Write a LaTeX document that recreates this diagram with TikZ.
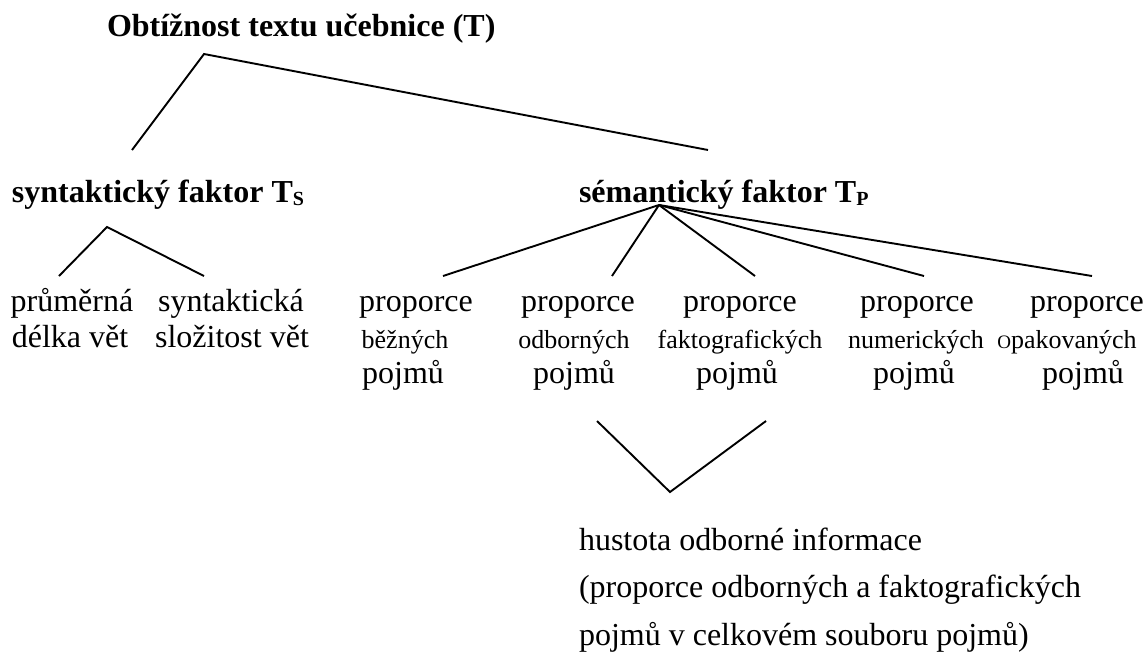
\documentclass[tikz,border=0pt]{standalone}
\usepackage{fontspec}
\setmainfont{Liberation Serif}
\begin{document}
\begin{tikzpicture}[x=1pt,y=-1pt,
  lbl/.style={inner sep=0pt, outer sep=0pt},
  big/.style={lbl, font=\fontsize{32}{38}\selectfont},
  bigb/.style={lbl, font=\fontsize{32}{38}\selectfont\bfseries},
  small/.style={lbl, font=\fontsize{26}{31}\selectfont},
  link/.style={line width=1.9pt, line join=miter}]
\useasboundingbox[fill=white] (0,0) rectangle (1147,667);
% headers
\node[bigb, anchor=base west] (T) at (107,36) {Obtížnost textu učebnice (T)};
\node[bigb, anchor=base west] (TS) at (12,202) {syntaktický faktor T\raisebox{-3pt}{\fontsize{20}{20}\selectfont S}};
\node[bigb, anchor=base west] (TP) at (579,202) {sémantický faktor T\raisebox{-3pt}{\fontsize{20}{20}\selectfont P}};
% syntactic leaves
\node[big, anchor=base] (s1a) at (72,311) {průměrná};
\node[big, anchor=base] (s1b) at (70,347) {délka vět};
\node[big, anchor=base] (s2a) at (231,311) {syntaktická};
\node[big, anchor=base] (s2b) at (232,347) {složitost vět};
% semantic leaves
\node[big, anchor=base] (p1a) at (416,311) {proporce};
\node[small, anchor=base] (p1b) at (405,348) {běžných};
\node[big, anchor=base] (p1c) at (403,383) {pojmů};
\node[big, anchor=base] (p2a) at (578,311) {proporce};
\node[small, anchor=base] (p2b) at (574,348) {odborných};
\node[big, anchor=base] (p2c) at (574,383) {pojmů};
\node[big, anchor=base] (p3a) at (740,311) {proporce};
\node[small, anchor=base] (p3b) at (740,348) {faktografických};
\node[big, anchor=base] (p3c) at (737,383) {pojmů};
\node[big, anchor=base] (p4a) at (917,311) {proporce};
\node[small, anchor=base] (p4b) at (916,348) {numerických};
\node[big, anchor=base] (p4c) at (914,383) {pojmů};
\node[big, anchor=base] (p5a) at (1087,311) {proporce};
\node[small, anchor=base] (p5b) at (1067,348) {{\fontsize{19}{19}\selectfont O}pakovaných};
\node[big, anchor=base] (p5c) at (1083,383) {pojmů};
% density
\node[big, anchor=base west] (h1) at (579,550) {hustota odborné informace};
\node[big, anchor=base west] (h2) at (579,597) {(proporce odborných a faktografických};
\node[big, anchor=base west] (h3) at (579,645) {pojmů v celkovém souboru pojmů)};
% connector points
\coordinate (aT) at (204,54);
\coordinate (eTS) at (132,150);
\coordinate (eTP) at (708,150);
\coordinate (aS) at (107,227);
\coordinate (eS1) at (59,276);
\coordinate (eS2) at (204,276);
\coordinate (aP) at (659,205);
\coordinate (eP1) at (443,276);
\coordinate (eP2) at (612,276);
\coordinate (eP3) at (755,276);
\coordinate (eP4) at (924,276);
\coordinate (eP5) at (1092,276);
\coordinate (vL) at (597,421);
\coordinate (vB) at (670,492);
\coordinate (vR) at (766,421);
% connectors
\draw[link] (eTS) -- (aT) -- (eTP);
\draw[link] (eS1) -- (aS) -- (eS2);
\draw[link] (aP) -- (eP1);
\draw[link] (aP) -- (eP2);
\draw[link] (aP) -- (eP3);
\draw[link] (aP) -- (eP4);
\draw[link] (aP) -- (eP5);
\draw[link] (vL) -- (vB) -- (vR);
\end{tikzpicture}
\end{document}
